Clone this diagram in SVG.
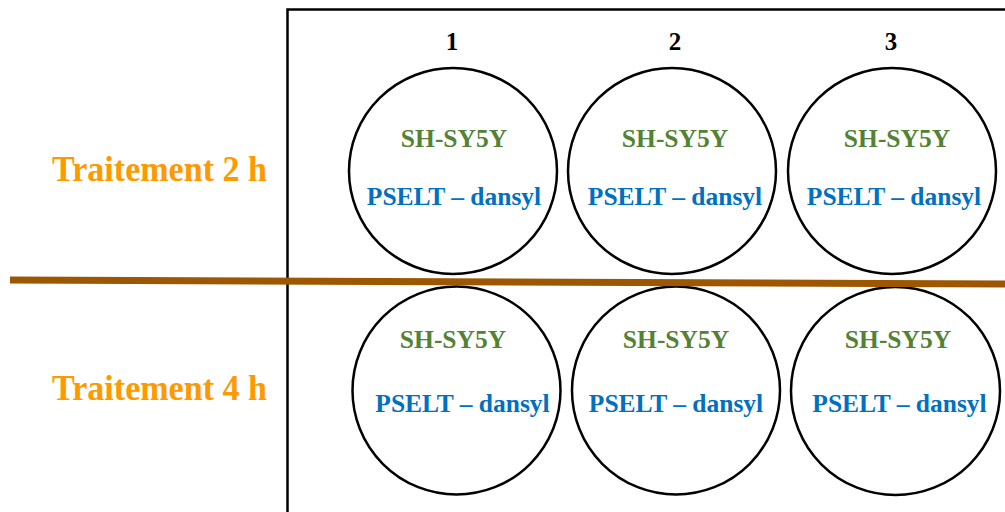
<svg xmlns="http://www.w3.org/2000/svg" width="1005" height="512" viewBox="0 0 1005 512">
<style>
.well{fill:none;stroke:#000;stroke-width:2.5}
.t{font-family:"Liberation Serif","Times New Roman",serif;font-weight:bold;text-anchor:middle}
.num{font-size:25px;fill:#000}
.cell{font-size:25.5px;fill:#548235}
.cmp{font-size:25.5px;fill:#0070C0}
.lbl{font-size:35px;fill:#FF9900;text-anchor:start}
</style>
<rect width="1005" height="512" fill="#fff"/>
<g id="frame"><path d="M287.5,512 V9.5 H1005" fill="none" stroke="#000" stroke-width="2.5"/></g>
<g id="col-labels">
<text class="t num" x="452" y="50">1</text>
<text class="t num" x="675" y="50">2</text>
<text class="t num" x="891" y="50">3</text>
</g>
<g id="row-labels">
<text class="t lbl" x="52" y="181" textLength="215" lengthAdjust="spacingAndGlyphs">Traitement 2 h</text>
<text class="t lbl" x="52" y="400" textLength="215" lengthAdjust="spacingAndGlyphs">Traitement 4 h</text>
</g>
<g id="well-1-1"><ellipse class="well" cx="453" cy="171" rx="104" ry="103"/>
<text class="t cell" x="454" y="147">SH-SY5Y</text><text class="t cmp" x="454" y="205">PSELT – dansyl</text></g>
<g id="well-1-2"><ellipse class="well" cx="672" cy="171" rx="104" ry="103"/>
<text class="t cell" x="675" y="147">SH-SY5Y</text><text class="t cmp" x="675" y="205">PSELT – dansyl</text></g>
<g id="well-1-3"><ellipse class="well" cx="892" cy="171" rx="104" ry="103"/>
<text class="t cell" x="897" y="147">SH-SY5Y</text><text class="t cmp" x="894" y="205">PSELT – dansyl</text></g>
<g id="well-2-1"><ellipse class="well" cx="456.5" cy="390.5" rx="104" ry="104"/>
<text class="t cell" x="453" y="348">SH-SY5Y</text><text class="t cmp" x="462.5" y="412">PSELT – dansyl</text></g>
<g id="well-2-2"><ellipse class="well" cx="676" cy="390.5" rx="104" ry="104"/>
<text class="t cell" x="676" y="348">SH-SY5Y</text><text class="t cmp" x="676" y="412">PSELT – dansyl</text></g>
<g id="well-2-3"><ellipse class="well" cx="895.5" cy="391" rx="104.5" ry="104"/>
<text class="t cell" x="898" y="348">SH-SY5Y</text><text class="t cmp" x="899.5" y="412">PSELT – dansyl</text></g>
<g id="connectors"><line x1="10" y1="280" x2="1005" y2="284" stroke="#9C5700" stroke-width="7"/></g>
</svg>
